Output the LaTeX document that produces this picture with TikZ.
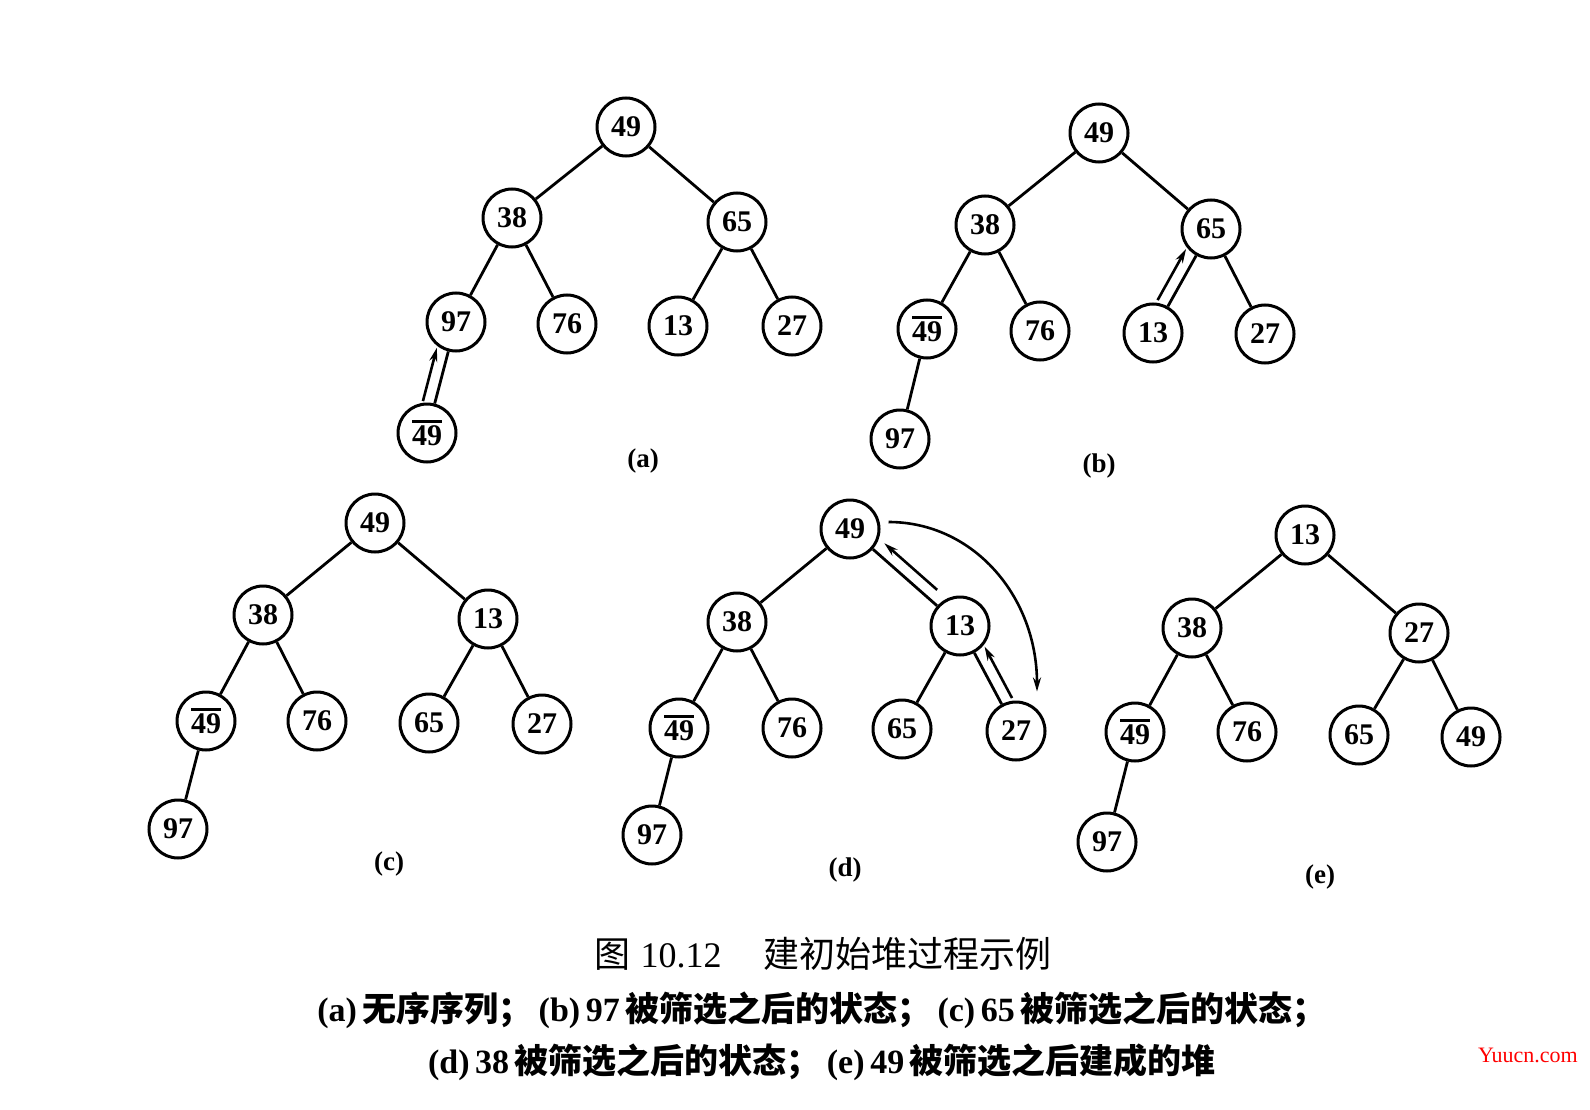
\documentclass[tikz,border=0pt]{standalone}
\usepackage{fontspec}
\setmainfont{Liberation Serif}
\newfontfamily\cjk{Noto Sans CJK SC}
\usetikzlibrary{calc,arrows.meta}
\tikzset{
  x=1pt,y=-1pt,
  nd/.style={circle,draw,line width=3pt,minimum size=58pt,inner sep=0pt,
    font=\fontsize{30}{30}\selectfont\bfseries},
  edge/.style={line width=2.8pt},
  swp/.style={line width=2.6pt,-{Stealth[length=14pt,width=8pt]}},
  lab/.style={font=\fontsize{27}{27}\selectfont\bfseries},
}
\newcommand\ob[1]{\setbox0\hbox{#1}\rlap{\raisebox{\dimexpr\ht0+3pt\relax}{\rule{\wd0}{2.4pt}}}\box0}
\begin{document}
\begin{tikzpicture}
\useasboundingbox[fill=white] (0,0) rectangle (1590,1110);
% ---------- (a)
\node[nd] (a1) at (626,127) {49};
\node[nd] (a2) at (512,218) {38};
\node[nd] (a3) at (737,222) {65};
\node[nd] (a4) at (456,322) {97};
\node[nd] (a5) at (567,324) {76};
\node[nd] (a6) at (678,326) {13};
\node[nd] (a7) at (792,326) {27};
\node[nd] (a8) at (427,433) {\ob{49}};
\draw[edge] (a1)--(a2) (a1)--(a3) (a2)--(a4) (a2)--(a5) (a3)--(a6) (a3)--(a7) (a4)--(a8);
\draw[swp] ($(a4)!0.74!(a8)!12pt!-90:(a8)$) -- ($(a4)!0.26!(a8)!12pt!-90:(a8)$);
\node[lab] (la) at (643,461) {(a)};
% ---------- (b)
\node[nd] (b1) at (1099,133) {49};
\node[nd] (b2) at (985,225) {38};
\node[nd] (b3) at (1211,229) {65};
\node[nd] (b4) at (927,329) {\ob{49}};
\node[nd] (b5) at (1040,331) {76};
\node[nd] (b6) at (1153,333) {13};
\node[nd] (b7) at (1265,334) {27};
\node[nd] (b8) at (900,439) {97};
\draw[edge] (b1)--(b2) (b1)--(b3) (b2)--(b4) (b2)--(b5) (b3)--(b6) (b3)--(b7) (b4)--(b8);
\draw[swp] ($(b3)!0.74!(b6)!12pt!-90:(b6)$) -- ($(b3)!0.25!(b6)!12pt!-90:(b6)$);
\node[lab] (lb) at (1099,466) {(b)};
% ---------- (c)
\node[nd] (c1) at (375,523) {49};
\node[nd] (c2) at (263,615) {38};
\node[nd] (c3) at (488,619) {13};
\node[nd] (c4) at (206,721) {\ob{49}};
\node[nd] (c5) at (317,721) {76};
\node[nd] (c6) at (429,723) {65};
\node[nd] (c7) at (542,724) {27};
\node[nd] (c8) at (178,829) {97};
\draw[edge] (c1)--(c2) (c1)--(c3) (c2)--(c4) (c2)--(c5) (c3)--(c6) (c3)--(c7) (c4)--(c8);
\node[lab] (lc) at (389,864) {(c)};
% ---------- (d)
\node[nd] (d1) at (850,529) {49};
\node[nd] (d2) at (737,622) {38};
\node[nd] (d3) at (960,626) {13};
\node[nd] (d4) at (679,728) {\ob{49}};
\node[nd] (d5) at (792,728) {76};
\node[nd] (d6) at (902,729) {65};
\node[nd] (d7) at (1016,731) {27};
\node[nd] (d8) at (652,835) {97};
\draw[edge] (d1)--(d2) (d1)--(d3) (d2)--(d4) (d2)--(d5) (d3)--(d6) (d3)--(d7) (d4)--(d8);
\draw[swp] ($(d1)!0.72!(d3)!12pt!90:(d3)$) -- ($(d1)!0.24!(d3)!12pt!90:(d3)$);
\draw[swp] ($(d3)!0.74!(d7)!12pt!90:(d7)$) -- ($(d3)!0.25!(d7)!12pt!90:(d7)$);
\coordinate (ds) at ($(d1.east)+(8,-7)$);
\coordinate (de) at ($(d7.north)+(21,-9)$);
\draw[swp] (ds) .. controls ($(ds)+(85,0)$) and ($(de)+(0,-95)$) .. (de);
\node[lab] (ld) at (845,870) {(d)};
% ---------- (e)
\node[nd] (e1) at (1305,535) {13};
\node[nd] (e2) at (1192,628) {38};
\node[nd] (e3) at (1419,633) {27};
\node[nd] (e4) at (1135,732) {\ob{49}};
\node[nd] (e5) at (1247,732) {76};
\node[nd] (e6) at (1359,735) {65};
\node[nd] (e7) at (1471,737) {49};
\node[nd] (e8) at (1107,842) {97};
\draw[edge] (e1)--(e2) (e1)--(e3) (e2)--(e4) (e2)--(e5) (e3)--(e6) (e3)--(e7) (e4)--(e8);
\node[lab] (le) at (1320,877) {(e)};
% ---------- caption
\node[font=\fontsize{36}{36}\selectfont] (cap1) at (823,954)
  {{\cjk 图}\hspace{10pt}10.12\hspace{42pt}{\cjk 建初始堆过程示例}};
\node[font=\fontsize{34}{34}\selectfont\bfseries] (cap2) at (822,1010)
  {(a)\,{\cjk 无序序列；}\hspace{6pt}(b)\,97\,{\cjk 被筛选之后的状态；}\hspace{6pt}(c)\,65\,{\cjk 被筛选之后的状态；}};
\node[font=\fontsize{34}{34}\selectfont\bfseries] (cap3) at (822,1062)
  {(d)\,38\,{\cjk 被筛选之后的状态；}\hspace{6pt}(e)\,49\,{\cjk 被筛选之后建成的堆}};
\node[font=\fontsize{22}{22}\selectfont,text=red] (wm) at (1528,1055) {Yuucn.com};
\end{tikzpicture}
\end{document}
